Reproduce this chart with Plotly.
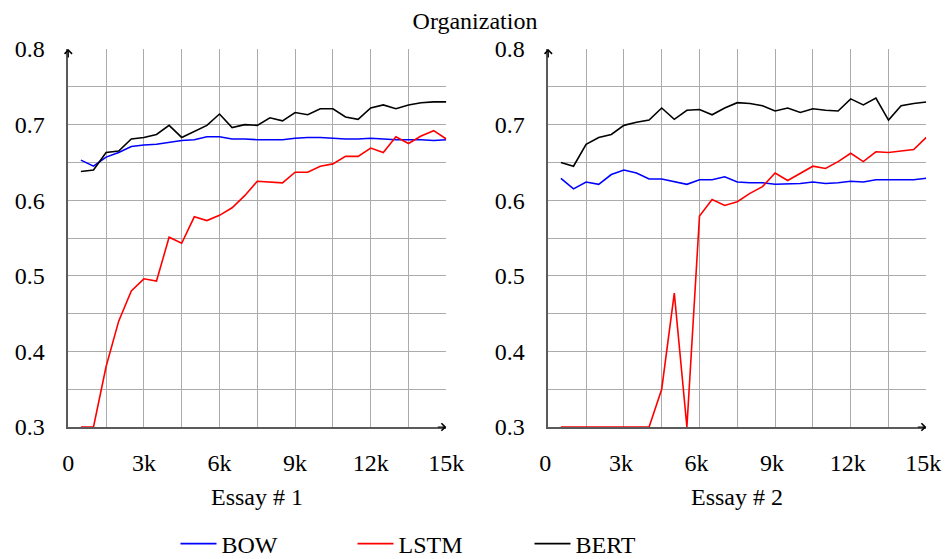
import plotly.graph_objects as go

# ---- data ----
x_vals = [500 * i for i in range(1, 31)]

bow_1 = [0.653, 0.645, 0.657, 0.663, 0.671, 0.673, 0.674, 0.677, 0.679, 0.680,
         0.684, 0.684, 0.681, 0.681, 0.680, 0.680, 0.680, 0.682, 0.683, 0.683,
         0.682, 0.681, 0.681, 0.682, 0.681, 0.680, 0.680, 0.680, 0.679, 0.680]
lstm_1 = [0.300, 0.300, 0.380, 0.440, 0.480, 0.496, 0.493, 0.551, 0.543, 0.578,
          0.573, 0.580, 0.590, 0.606, 0.625, 0.624, 0.623, 0.637, 0.637, 0.645,
          0.648, 0.658, 0.658, 0.669, 0.663, 0.684, 0.675, 0.685, 0.692, 0.681]
bert_1 = [0.638, 0.640, 0.663, 0.665, 0.681, 0.683, 0.687, 0.699, 0.683, 0.691,
          0.699, 0.714, 0.696, 0.700, 0.699, 0.709, 0.705, 0.716, 0.713, 0.721,
          0.721, 0.710, 0.707, 0.722, 0.726, 0.721, 0.726, 0.729, 0.730, 0.730]

bow_2 = [0.629, 0.615, 0.624, 0.621, 0.634, 0.640, 0.636, 0.628, 0.628, 0.625,
         0.621, 0.627, 0.627, 0.631, 0.624, 0.623, 0.623, 0.621, 0.622, 0.622,
         0.624, 0.622, 0.623, 0.625, 0.624, 0.627, 0.627, 0.627, 0.627, 0.629]
lstm_2 = [0.300, 0.300, 0.300, 0.300, 0.300, 0.300, 0.300, 0.300, 0.350, 0.477,
          0.300, 0.579, 0.601, 0.593, 0.598, 0.609, 0.618, 0.636, 0.626, 0.636,
          0.645, 0.642, 0.651, 0.662, 0.651, 0.664, 0.663, 0.665, 0.667, 0.683]
bert_2 = [0.650, 0.645, 0.674, 0.683, 0.687, 0.699, 0.703, 0.706, 0.722, 0.707,
          0.719, 0.720, 0.713, 0.722, 0.729, 0.728, 0.725, 0.718, 0.722, 0.716,
          0.721, 0.719, 0.718, 0.734, 0.726, 0.735, 0.706, 0.725, 0.728, 0.730]

series_names = ["BOW", "LSTM", "BERT"]
series_colors = ["#0000ff", "#ff0000", "#000000"]
x_tickvals = [0, 3000, 6000, 9000, 12000, 15000]
x_ticktext = ["0", "3k", "6k", "9k", "12k", "15k"]
y_tickvals = [0.3, 0.4, 0.5, 0.6, 0.7, 0.8]
y_ticktext = ["0.3", "0.4", "0.5", "0.6", "0.7", "0.8"]
x_titles = ["Essay # 1", "Essay # 2"]
chart_title = "Organization"

FONT = "Times New Roman, Times, Liberation Serif, serif"
FS = 24
GRID = "#ababab"
AXIS = "#5a5a5a"

# page body has an 8px margin; lay the figure out in page pixels minus that
OFF = 8
W, H = 950, 559


def fx(px):
    return (px - OFF) / W


def fy(py):
    return 1 - (py - OFF) / H


fig = go.Figure()
panels = [(bow_1, lstm_1, bert_1), (bow_2, lstm_2, bert_2)]
for p, vals in enumerate(panels):
    xa = "x" if p == 0 else "x2"
    ya = "y" if p == 0 else "y2"
    for name, color, ys in zip(series_names, series_colors, vals):
        fig.add_trace(go.Scatter(
            x=x_vals, y=ys, mode="lines", name=name,
            line=dict(color=color, width=1.6),
            xaxis=xa, yaxis=ya, showlegend=(p == 0),
        ))

ydom = [fy(427), fy(49)]
xdoms = [[fx(68.3), fx(446.3)], [fx(548.3), fx(926.3)]]

common_x = dict(
    range=[0, 15000], tickmode="array", tickvals=x_tickvals, ticktext=x_ticktext,
    showgrid=True, gridcolor=GRID, gridwidth=1,
    minor=dict(dtick=1500, tick0=0, showgrid=True, gridcolor=GRID, gridwidth=1),
    showline=True, linecolor=AXIS, linewidth=1.5, zeroline=False,
    ticks="", ticklabelstandoff=13, layer="below traces", automargin=False,
    tickfont=dict(family=FONT, size=FS, color="#000"),
)
common_y = dict(
    range=[0.3, 0.8], tickmode="array", tickvals=y_tickvals, ticktext=y_ticktext,
    showgrid=True, gridcolor=GRID, gridwidth=1,
    minor=dict(dtick=0.05, tick0=0.3, showgrid=True, gridcolor=GRID, gridwidth=1),
    showline=True, linecolor=AXIS, linewidth=1.5, zeroline=False,
    ticks="", ticklabelstandoff=17, layer="below traces", automargin=False,
    tickfont=dict(family=FONT, size=FS, color="#000"),
)

fig.update_layout(
    template="none",
    width=W, height=H,
    margin=dict(l=0, r=0, t=0, b=0, autoexpand=False),
    paper_bgcolor="white", plot_bgcolor="white",
    font=dict(family=FONT, size=FS, color="#000"),
    xaxis=dict(domain=xdoms[0], anchor="y", **common_x),
    yaxis=dict(domain=ydom, anchor="x", **common_y),
    xaxis2=dict(domain=xdoms[1], anchor="y2", ticklabelshift=-3, **common_x),
    yaxis2=dict(domain=ydom, anchor="x2", **common_y),
    title=dict(text=chart_title, x=fx(475), xanchor="center", y=fy(21),
               yanchor="middle", font=dict(family=FONT, size=FS, color="#000")),
    legend=dict(orientation="h", x=fx(175.5), xanchor="left", y=fy(544),
                yanchor="middle", entrywidth=126, entrywidthmode="pixels",
                itemwidth=36,
                font=dict(family=FONT, size=FS, color="#000"),
                bgcolor="rgba(0,0,0,0)", borderwidth=0),
    showlegend=True,
)

annotations = []
for p in range(2):
    xr = "x domain" if p == 0 else "x2 domain"
    yr = "y domain" if p == 0 else "y2 domain"
    annotations.append(dict(
        text=x_titles[p], xref=xr, yref="paper", x=0.5, y=fy(497),
        xanchor="center", yanchor="middle", showarrow=False,
        font=dict(family=FONT, size=FS, color="#000")))
    annotations.append(dict(
        text="", xref=xr, yref=yr, x=1, y=0, ax=-10, ay=0,
        showarrow=True, arrowhead=4, arrowsize=1.2, arrowwidth=1.2,
        arrowcolor="#000", standoff=0))
    annotations.append(dict(
        text="", xref=xr, yref=yr, x=0, y=1, ax=0, ay=10,
        showarrow=True, arrowhead=4, arrowsize=1.2, arrowwidth=1.2,
        arrowcolor="#000", standoff=0))
fig.update_layout(annotations=annotations)

fig.write_html("out.html")
